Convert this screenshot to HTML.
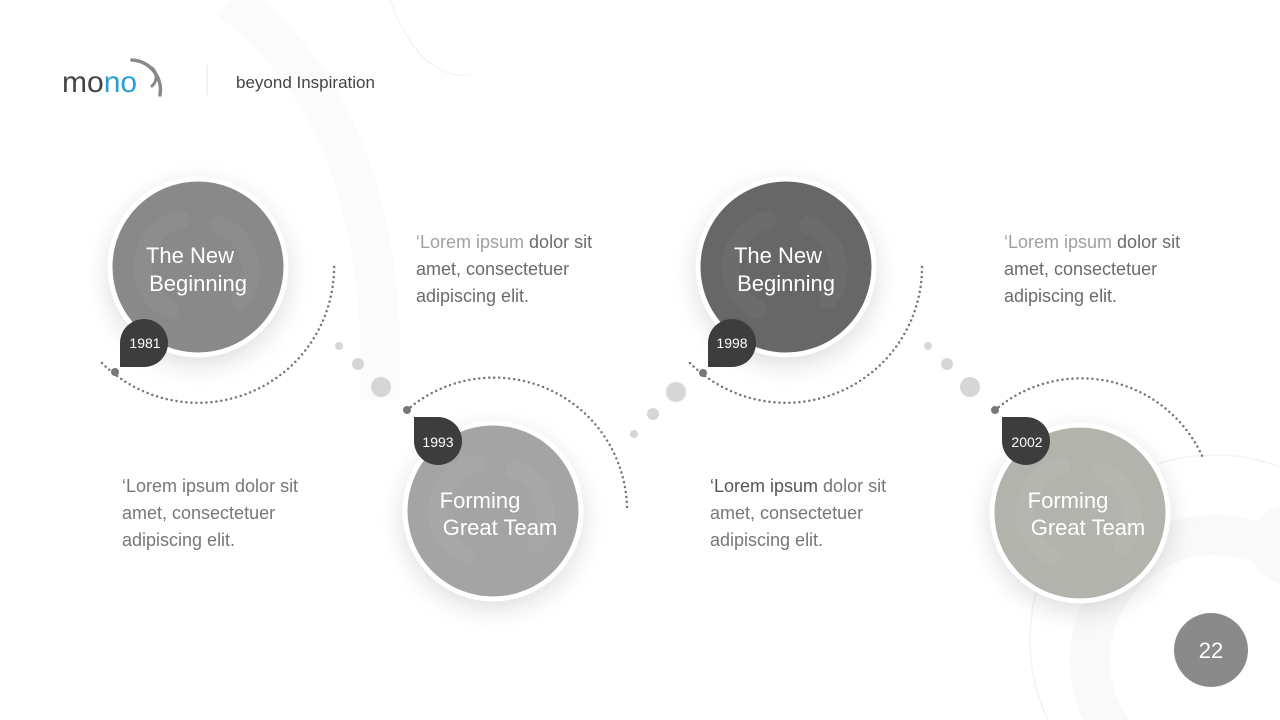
<!DOCTYPE html>
<html><head><meta charset="utf-8"><style>
html,body{margin:0;padding:0;overflow:hidden;width:1280px;height:720px}
body{background:#fff;font-family:"Liberation Sans",sans-serif;position:relative}
.t{position:absolute;font-size:18px;line-height:27px;color:#6b6b6b;width:220px}
.t .l{color:#a0a0a0}
</style></head><body>
<svg width="1280" height="720" style="position:absolute;left:0;top:0;display:block" font-family="Liberation Sans, sans-serif">
<defs>
<filter id="sh" x="-50%" y="-50%" width="200%" height="200%"><feGaussianBlur stdDeviation="14"/></filter>
</defs>
<!-- background decor -->
<path d="M230 0 Q390 120 380 400" stroke="#fbfbfb" stroke-width="40" fill="none"/>
<path d="M390 0 Q420 80 470 75" stroke="#f5f5f5" stroke-width="1.5" fill="none"/>
<circle cx="1215" cy="660" r="125" stroke="#f9f9f9" stroke-width="40" fill="none"/>
<circle cx="1215" cy="640" r="185" stroke="#f3f3f3" stroke-width="1.5" fill="none"/>
<circle cx="1290" cy="545" r="40" fill="#f9f9f9"/>
<!-- logo -->
<text x="62" y="92" font-size="30" fill="#444">mo<tspan fill="#2a9fd6">no</tspan></text>
<path d="M152 68 A12 12 0 0 1 152 86" stroke="#888" stroke-width="3" fill="none" stroke-linecap="round"/>
<path d="M132 60 A30 30 0 0 1 160 95" stroke="#888" stroke-width="3.5" fill="none" stroke-linecap="round"/>
<line x1="207" y1="65" x2="207" y2="95" stroke="#e5e5e5"/>
<text x="236" y="88" font-size="17" fill="#444">beyond Inspiration</text>
<!-- shadows -->
<g filter="url(#sh)" fill="#000" opacity="0.15">
<circle cx="198" cy="275" r="88"/><circle cx="493" cy="519" r="88"/>
<circle cx="786" cy="275" r="88"/><circle cx="1080" cy="521" r="88"/>
</g>
<!-- circles -->
<g stroke="#fff" stroke-width="5">
<circle cx="198" cy="267" r="88" fill="#898989"/>
<circle cx="493" cy="511" r="88" fill="#a4a4a4"/>
<circle cx="786" cy="267" r="88" fill="#676767"/>
<circle cx="1080" cy="513" r="88" fill="#b3b3ad"/>
</g>
<!-- faint inner decor -->
<g fill="none" stroke="#fff" stroke-opacity="0.04" stroke-width="18" stroke-linecap="round">
<path d="M180 220 A48 48 0 0 0 170 310"/><path d="M220 225 A48 48 0 0 1 240 300"/>
<path d="M475 464 A48 48 0 0 0 465 554"/><path d="M515 469 A48 48 0 0 1 535 544"/>
<path d="M768 220 A48 48 0 0 0 758 310"/><path d="M808 225 A48 48 0 0 1 828 300"/>
<path d="M1062 466 A48 48 0 0 0 1052 556"/><path d="M1102 471 A48 48 0 0 1 1122 546"/>
</g>
<!-- circle labels -->
<g fill="#fff" font-size="22" text-anchor="middle">
<text x="190" y="263">The New</text><text x="198" y="291">Beginning</text>
<text x="480" y="508">Forming</text><text x="500" y="535">Great Team</text>
<text x="778" y="263">The New</text><text x="786" y="291">Beginning</text>
<text x="1068" y="508">Forming</text><text x="1088" y="535">Great Team</text>
</g>
<!-- dotted arcs -->
<g fill="none" stroke="#777" stroke-width="2.5" stroke-dasharray="0 5" stroke-linecap="round">
<path d="M102 363 A136 136 0 0 0 334 262"/>
<path d="M407 410 A133 133 0 0 1 627 508"/>
<path d="M690 363 A136 136 0 0 0 922 262"/>
<path d="M995 410 A133 133 0 0 1 1203 458"/>
</g>
<g fill="#777"><circle cx="115" cy="372" r="4"/><circle cx="407" cy="410" r="4"/><circle cx="703" cy="373" r="4"/><circle cx="995" cy="410" r="4"/></g>
<!-- connecting dots -->
<g fill="#d6d6d6">
<circle cx="339" cy="346" r="4"/><circle cx="358" cy="364" r="6"/><circle cx="381" cy="387" r="10"/>
<circle cx="634" cy="434" r="4"/><circle cx="653" cy="414" r="6"/><circle cx="676" cy="392" r="10"/>
<circle cx="928" cy="346" r="4"/><circle cx="947" cy="364" r="6"/><circle cx="970" cy="387" r="10"/>
</g>
<!-- year tags -->
<g fill="#3d3d3d">
<path d="M120 367 V343 A24 24 0 1 1 144 367 Z"/>
<path d="M414 417 H438 A24 24 0 1 1 414 441 Z"/>
<path d="M708 367 V343 A24 24 0 1 1 732 367 Z"/>
<path d="M1002 417 H1026 A24 24 0 1 1 1002 441 Z"/>
</g>
<g fill="#fff" font-size="14" text-anchor="middle">
<text x="145" y="348">1981</text><text x="438" y="447">1993</text>
<text x="732" y="348">1998</text><text x="1027" y="447">2002</text>
</g>
<!-- page number -->
<circle cx="1211" cy="650" r="37" fill="#8a8a8a"/>
<text x="1211" y="658" fill="#fff" font-size="22" text-anchor="middle">22</text>
</svg>
<div class="t" style="left:416px;top:229px"><span class="l">‘Lorem ipsum</span> dolor sit amet, consectetuer adipiscing elit.</div>
<div class="t" style="left:1004px;top:229px"><span class="l">‘Lorem ipsum</span> dolor sit amet, consectetuer adipiscing elit.</div>
<div class="t" style="left:122px;top:473px;color:#777">‘Lorem ipsum dolor sit amet, consectetuer adipiscing elit.</div>
<div class="t" style="left:710px;top:473px;color:#777"><span style="color:#555">‘Lorem ipsum</span> dolor sit amet, consectetuer adipiscing elit.</div>
</body></html>
